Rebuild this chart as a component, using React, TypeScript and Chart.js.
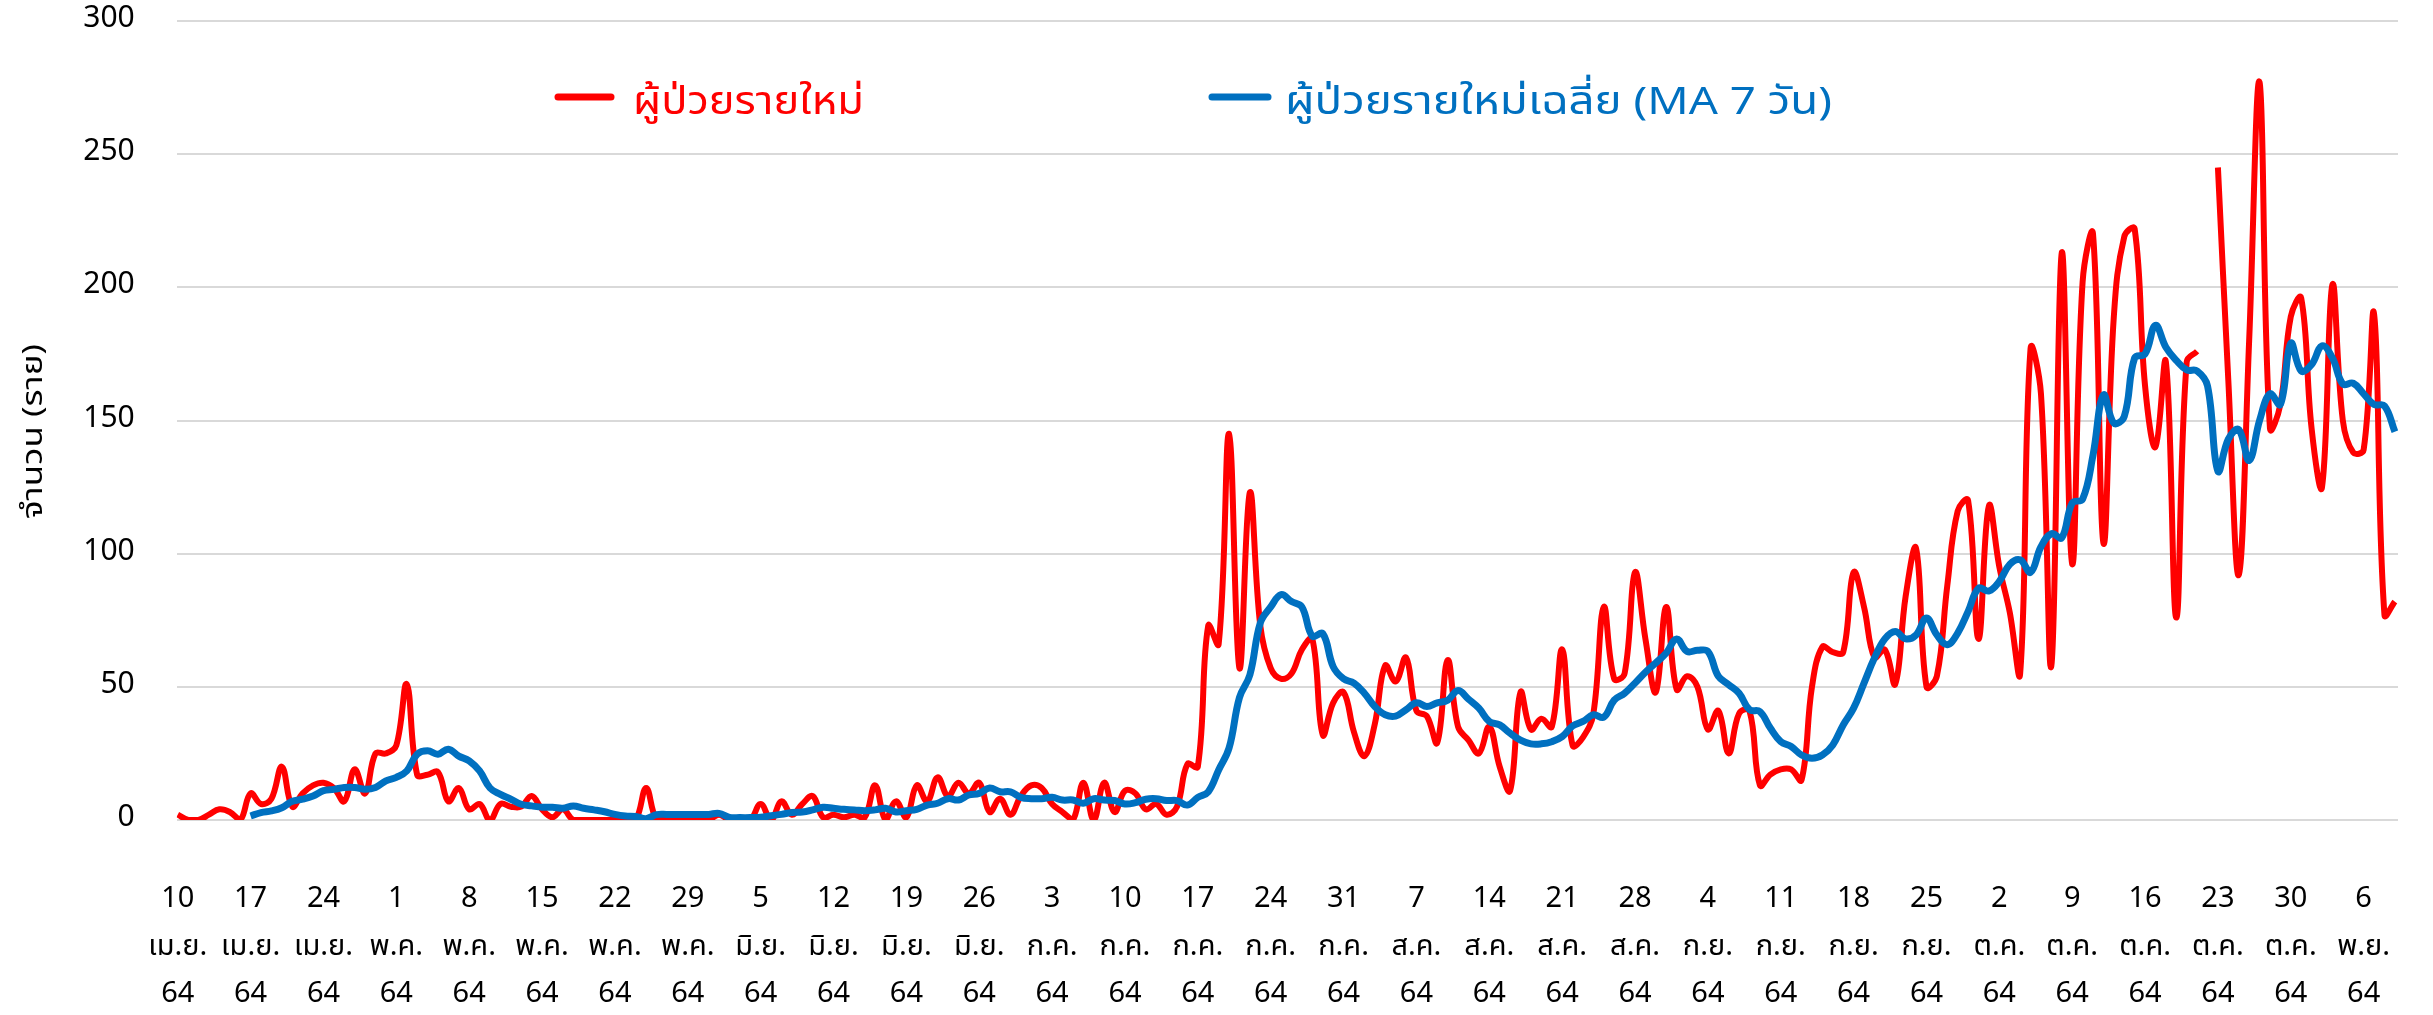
import React, { useEffect, useRef } from "react";
import { Chart, registerables } from "chart.js";

Chart.register(...registerables);

const dayLabels = ["10","17","24","1","8","15","22","29","5","12","19","26","3","10","17","24","31","7","14","21","28","4","11","18","25","2","9","16","23","30","6"];
const monthLabels = ["เม.ย.","เม.ย.","เม.ย.","พ.ค.","พ.ค.","พ.ค.","พ.ค.","พ.ค.","มิ.ย.","มิ.ย.","มิ.ย.","มิ.ย.","ก.ค.","ก.ค.","ก.ค.","ก.ค.","ก.ค.","ส.ค.","ส.ค.","ส.ค.","ส.ค.","ก.ย.","ก.ย.","ก.ย.","ก.ย.","ต.ค.","ต.ค.","ต.ค.","ต.ค.","ต.ค.","พ.ย."];
const yearLabel = "64";

// daily new cases, 10 Apr 2564 onward (one value per day)
const newCases: (number | null)[] = [
  2,0,0,2,4,3,0,10,6,8,
  20,5,10,13,14,12,7,19,10,25,
  25,28,51,17,17,18,7,12,4,6,
  0,6,5,5,9,4,1,4,0,0,
  0,0,0,0,0,12,0,0,0,0,
  0,0,2,0,0,0,6,0,7,2,
  6,9,1,2,1,2,1,13,0,7,
  1,13,7,16,9,14,10,14,3,8,
  2,9,13,12,6,3,0,14,0,14,
  3,11,10,4,6,2,5,21,20,73,
  66,145,57,123,73,57,53,55,64,68,
  32,44,48,33,24,36,58,52,61,41,
  39,29,60,35,30,25,35,20,11,48,
  34,38,35,64,28,31,40,80,53,55,
  93,68,48,80,49,54,50,34,41,25,
  40,41,13,17,19,19,15,50,65,63,
  63,93,80,61,64,51,84,102,50,54,
  88,116,120,68,118,95,78,55,177,160,
  58,213,96,202,220,104,189,219,222,163,
  140,172,76,172,176,null,245,165,92,180,
  277,147,156,189,196,147,125,201,150,138,
  139,190,77,82
];

// 7-day moving average
const ma7: (number | null)[] = [
  null,null,null,null,null,null,null,1.5,2.8,3.4,
  4.6,7,7.8,9,11,11.5,12.2,12.2,11.5,12.2,
  14.7,16,18.4,24.7,26,24.7,26.6,24,22.2,18.4,
  12,9.6,7.8,5.9,5.3,4.8,4.8,4.4,5.3,4.4,
  3.8,3.1,2.1,1.5,1.3,0.5,2,2.1,2.1,2.1,
  2.1,2.1,2.5,1,0.9,0.9,1,1.6,2.1,2.8,
  3,3.8,4.8,4.4,4,3.8,3.5,3.8,4.4,3,
  3.5,4,5.6,6.3,8,7.5,9.4,10,12,10.6,
  10.6,8.5,8,8,8.5,7.5,7.5,6.3,8,7.5,
  7.3,6,6.5,7.8,8,7.3,7.3,5.6,8.5,10.6,
  18.8,27,46,54.5,74,80,84.6,82,80,69,
  70,57.6,53,51.4,47.6,42.6,39.5,39,41.4,44,
  42.6,44,45,48.6,45.4,42,37,35.7,32.6,30,
  28.6,28.6,29.4,31.3,35.3,37,39.5,38.6,45,47.6,
  51.4,55.5,59,62.7,68,63.3,63.7,63.3,54,50.8,
  47.6,41.4,40.7,34.5,29.4,27.6,24.4,23.2,24.4,28.2,
  35.7,42,51.4,60.8,68,70.8,68,69.5,75.8,69.5,
  65.8,70.2,78.3,87,86,89.6,96,97.7,93,102.6,
  107.5,106,119,120.5,137,159.6,149,151.5,173.5,175,
  185.7,177.5,172.6,169,168.6,163,131,143,146.6,135,
  150,160,156,179,168.6,171,178,173.5,163.7,164,
  160,156,155.5,145.8
];

const seriesNames = ["ผู้ป่วยรายใหม่", "ผู้ป่วยรายใหม่เฉลี่ย (MA 7 วัน)"];
const yTitle = "จำนวน (ราย)";
const FONT = "Tahoma, 'Noto Sans Thai', 'Leelawadee UI', 'DejaVu Sans', sans-serif";
const RED = "#FF0000";
const BLUE = "#0070C0";

function fitText(ctx: CanvasRenderingContext2D, text: string, x: number, y: number, width: number) {
  const w = ctx.measureText(text).width;
  const sx = w > 0 ? width / w : 1;
  ctx.save();
  ctx.translate(x, y);
  ctx.scale(sx, 1);
  ctx.fillText(text, 0, 0);
  ctx.restore();
}

const overlay = {
  id: "overlay",
  afterDraw(chart: any) {
    const ctx = chart.ctx as CanvasRenderingContext2D;
    ctx.save();
    // y-axis title
    ctx.translate(36, 432);
    ctx.rotate(-Math.PI / 2);
    ctx.fillStyle = "#000";
    ctx.font = `28px ${FONT}`;
    ctx.textAlign = "left";
    ctx.textBaseline = "middle";
    fitText(ctx, yTitle, -87, 0, 175);
    ctx.restore();

    // legend
    ctx.save();
    ctx.lineCap = "round";
    ctx.lineWidth = 7;
    const items = [
      { color: RED, x0: 558, x1: 611, tx: 633, w: 231, text: seriesNames[0] },
      { color: BLUE, x0: 1212, x1: 1268, tx: 1285, w: 547, text: seriesNames[1] },
    ];
    for (const it of items) {
      ctx.strokeStyle = it.color;
      ctx.beginPath();
      ctx.moveTo(it.x0, 97);
      ctx.lineTo(it.x1, 97);
      ctx.stroke();
      ctx.fillStyle = it.color;
      ctx.font = `39px ${FONT}`;
      ctx.textAlign = "left";
      ctx.textBaseline = "alphabetic";
      fitText(ctx, it.text, it.tx, 114, it.w);
    }
    ctx.restore();
  },
};

export default function App() {
  const ref = useRef<HTMLCanvasElement | null>(null);
  useEffect(() => {
    document.body.style.margin = "0";
    document.body.style.overflow = "hidden";
    const canvas = ref.current!;
    const chart = new Chart(canvas, {
      type: "line",
      data: {
        datasets: [
          {
            label: seriesNames[1],
            data: ma7.map((v, i) => ({ x: i, y: v })) as any,
            borderColor: BLUE,
            backgroundColor: BLUE,
            borderWidth: 7,
            pointRadius: 0,
            tension: 0.4,
            order: 0,
            spanGaps: false,
          },
          {
            label: seriesNames[0],
            data: newCases.map((v, i) => ({ x: i, y: v })) as any,
            borderColor: RED,
            backgroundColor: RED,
            borderWidth: 6,
            pointRadius: 0,
            tension: 0.4,
            order: 1,
            spanGaps: false,
          },
        ],
      },
      options: {
        responsive: false,
        animation: false,
        devicePixelRatio: 1,
        layout: { padding: { left: 0, right: 35, top: 21, bottom: 0 } },
        plugins: { legend: { display: false }, tooltip: { enabled: false } },
        scales: {
          x: {
            type: "linear",
            min: -0.1,
            max: 213.3,
            grid: { display: false },
            border: { display: false },
            afterBuildTicks: (s: any) => {
              s.ticks = dayLabels.map((_, k) => ({ value: k * 7 }));
            },
            afterFit: (s: any) => {
              s.height = 195;
              s.paddingLeft = 0;
              s.paddingRight = 0;
            },
            ticks: {
              autoSkip: false,
              maxRotation: 0,
              minRotation: 0,
              padding: 49,
              color: "#000",
              font: { family: FONT, size: 29, lineHeight: 1.65 },
              callback: (v: any) => {
                const k = Math.round(Number(v) / 7);
                return [dayLabels[k], monthLabels[k], yearLabel];
              },
            },
          },
          y: {
            min: 0,
            max: 300,
            grid: { color: "#D9D9D9", lineWidth: 2, drawTicks: false },
            border: { display: false },
            afterFit: (s: any) => {
              s.width = 176.7;
              s.paddingTop = 0;
              s.paddingBottom = 0;
            },
            ticks: {
              stepSize: 50,
              padding: 42,
              color: "#000",
              font: { family: FONT, size: 30 },
            },
          },
        },
      },
      plugins: [overlay],
    });
    return () => chart.destroy();
  }, []);
  return (
    <canvas
      ref={ref}
      width={2433}
      height={1015}
      style={{ display: "block", width: "2433px", height: "1015px" }}
    />
  );
}
